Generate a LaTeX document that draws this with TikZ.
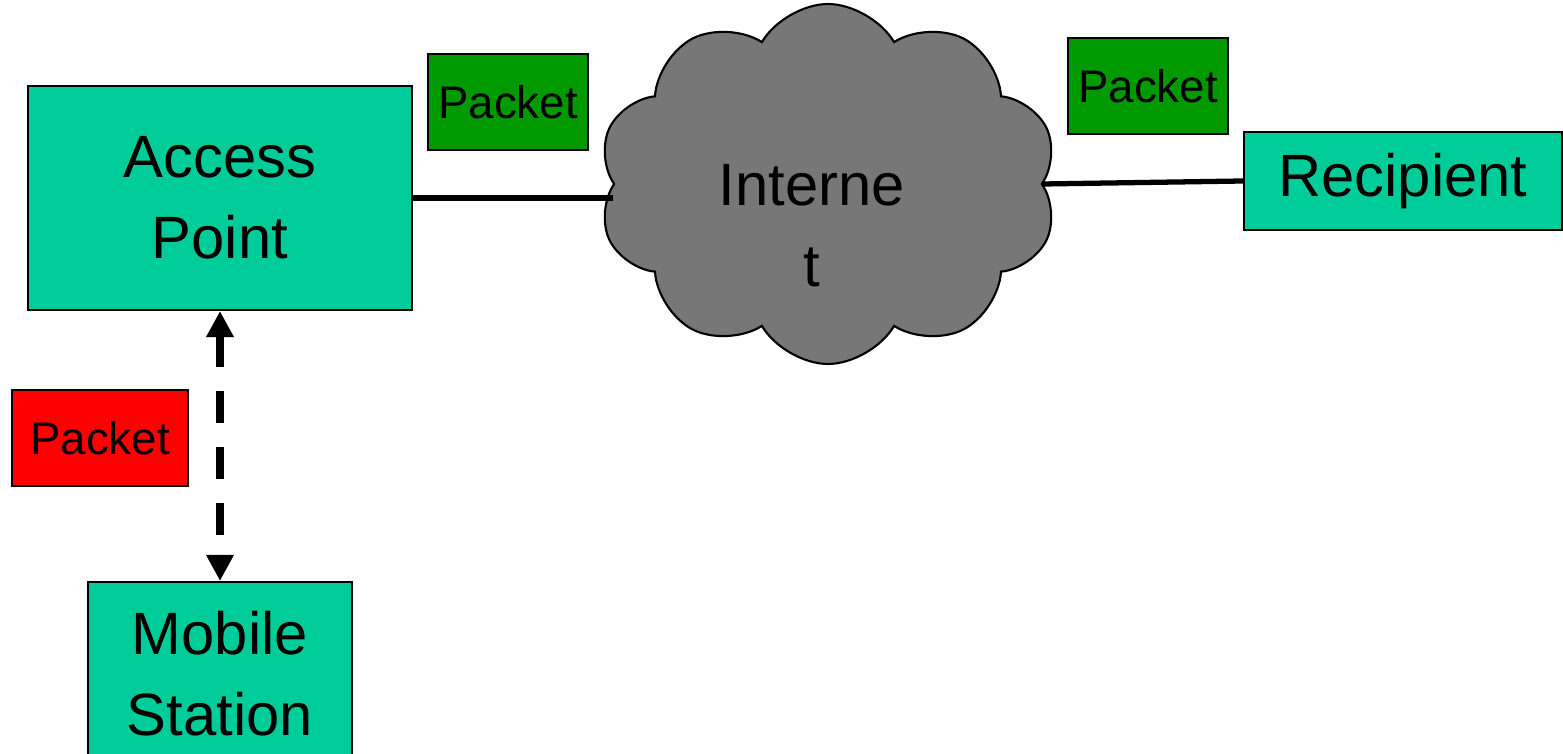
\documentclass[tikz,border=0pt]{standalone}
\usepackage{fontspec}
\setmainfont{Liberation Sans}
\usetikzlibrary{shapes.symbols, arrows.meta, positioning}
\definecolor{stationcolor}{RGB}{0, 204, 153}
\definecolor{sentcolor}{RGB}{0, 153, 0}
\definecolor{lostcolor}{RGB}{255, 0, 0}
\definecolor{netcolor}{RGB}{119, 119, 119}

\begin{document}
\begin{tikzpicture}[
    device/.style={draw, fill=stationcolor, line width=0.6pt, align=center, inner sep=0pt,
        font=\fontsize{17}{23}\selectfont},
    packet/.style={draw, fill=sentcolor, line width=0.6pt, minimum width=1.6cm, minimum height=0.96cm,
        inner sep=0pt, font=\fontsize{13}{15}\selectfont},
    link/.style={line width=1.5pt}
]
    \useasboundingbox (0,0) rectangle (15.63,-7.54);

    % Stations
    \node[device, minimum width=3.84cm, minimum height=2.24cm] (ap) at (2.20,-1.98) {Access\\Point};
    \node[device, minimum width=2.64cm, minimum height=1.84cm] (mobile) at (2.20,-6.74) {Mobile\\Station};
    \node[device, minimum width=3.18cm, minimum height=0.98cm] (rec) at (14.03,-1.81) {Recipient};

    % Internet
    \node[cloud, cloud puffs=10, cloud puff arc=120, draw, fill=netcolor, line width=0.6pt,
        minimum width=4.6cm, minimum height=3.6cm, inner sep=0pt] (inet) at (8.28,-1.84) {};
    \node[align=center, font=\fontsize{17}{23}\selectfont] (inettext) at (8.12,-2.26) {Interne\\t};

    % Packets
    \node[packet] (pk1) at (5.08,-1.02) {Packet};
    \node[packet] (pk2) at (11.48,-0.86) {Packet};
    \node[packet, fill=lostcolor, minimum width=1.76cm] (pk3) at (1.00,-4.38) {Packet};

    % Links
    \draw[link] (ap.east) -- (inet.west |- ap.east);
    \draw[link] (inet.east) -- (rec.west);
    \draw[line width=2.2pt, dash pattern=on 0.32cm off 0.24cm, {Triangle[length=0.26cm, width=0.26cm]}-{Triangle[length=0.26cm, width=0.26cm]}]
        (ap.south) -- (mobile.north);
\end{tikzpicture}
\end{document}
